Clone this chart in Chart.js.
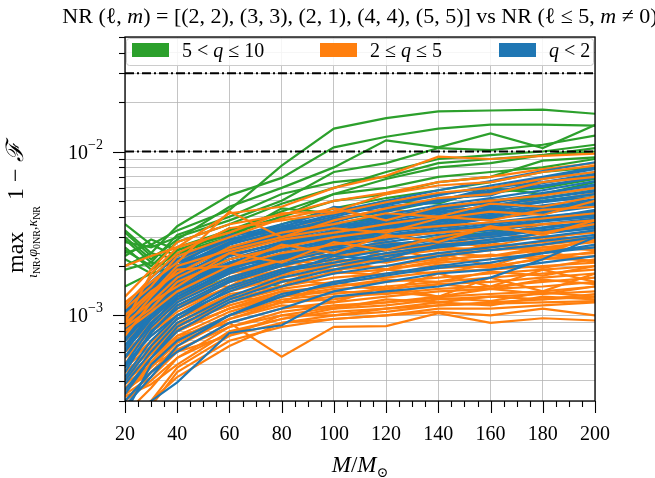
<!DOCTYPE html>
<html>
<head>
<meta charset="utf-8">
<script src="https://cdn.jsdelivr.net/npm/chart.js@4.4.1/dist/chart.umd.min.js"></script>
<style>
  html, body { margin: 0; padding: 0; background: #fff; }
  #wrap { width: 655px; height: 478px; }
</style>
</head>
<body>
<div id="wrap"><canvas id="mismatch" width="655" height="478"></canvas></div>
<script>
// total masses (x axis, solar masses)
var massGrid = [20, 30, 40, 60, 80, 100, 120, 140, 160, 180, 200];

// max mismatch values, in units of 1e-3
var greenCurves = [
  [3.6, 2.7, 3.3, 4.4, 8.2, 13.8, 16.0, 17.6, 17.8, 18.0, 17.0],
  [3.3, 2.4, 3.5, 5.4, 6.9, 10.6, 12.3, 13.8, 14.6, 14.6, 14.4],
  [3.0, 2.2, 2.9, 4.6, 6.0, 8.0, 11.7, 10.6, 12.9, 10.5, 14.5],
  [2.8, 2.6, 3.0, 3.8, 5.0, 7.5, 8.5, 10.5, 10.2, 11.0, 12.5],
  [2.5, 2.0, 2.8, 3.6, 4.8, 6.0, 7.5, 9.0, 9.5, 10.0, 11.0],
  [3.2, 2.3, 2.6, 3.3, 4.3, 5.5, 6.8, 8.0, 8.5, 9.5, 10.0],
  [2.2, 1.8, 2.5, 3.1, 4.0, 5.0, 5.5, 6.5, 7.0, 8.8, 9.2],
  [2.0, 2.4, 2.2, 2.8, 3.6, 4.5, 5.2, 5.8, 6.5, 7.5, 8.0],
  [1.9, 2.1, 2.0, 2.5, 3.2, 3.8, 4.3, 5.0, 5.6, 6.0, 6.8],
  [1.0, 1.3, 1.8, 2.2, 2.6, 3.2, 3.6, 4.0, 4.5, 5.0, 5.5],
  [0.7, 1.0, 1.3, 1.7, 1.5, 2.2, 2.6, 3.0, 3.2, 3.8, 4.2],
  [0.9, 1.2, 1.5, 2.0, 2.3, 2.8, 3.2, 3.8, 4.0, 4.5, 5.0],
  [2.6, 1.9, 2.4, 3.0, 4.5, 4.2, 5.0, 4.8, 6.0, 5.5, 6.5],
  [2.4, 2.7, 2.3, 3.4, 3.0, 3.6, 4.0, 4.4, 5.0, 5.2, 5.8],
  [2.9, 2.1, 3.1, 4.0, 5.5, 6.5, 7.0, 8.5, 9.0, 9.5, 10.5],
  [2.3, 2.9, 2.5, 3.2, 4.0, 5.5, 6.0, 7.0, 7.5, 8.0, 9.0],
  [1.5, 1.8, 2.0, 2.6, 3.0, 2.8, 3.8, 3.5, 4.5, 4.2, 5.0]
];

var orangeCurves = [
  [0.9, 1.8, 2.6, 4.2, 4.6, 6.0, 7.1, 9.3, 9.0, 9.4, 9.7],
  [2.0, 2.3, 2.6, 3.2, 4.2, 4.3, 5.5, 6.2, 6.5, 7.5, 8.2],
  [1.2, 1.6, 2.1, 4.3, 3.0, 3.8, 4.5, 5.2, 5.5, 6.5, 7.0],
  [1.1, 1.5, 2.3, 3.0, 3.9, 4.5, 3.8, 4.6, 5.0, 5.4, 6.0],
  [1.0, 1.4, 1.8, 2.6, 3.2, 3.6, 4.2, 4.0, 4.8, 4.6, 5.3],
  [0.9, 1.2, 1.7, 2.4, 2.9, 3.2, 3.6, 4.0, 3.8, 4.4, 4.6],
  [0.85, 1.1, 1.6, 2.2, 2.6, 3.0, 3.3, 3.5, 3.7, 3.9, 4.2],
  [0.8, 1.05, 1.4, 2.0, 2.4, 2.7, 3.0, 3.2, 3.4, 3.6, 3.8],
  [1.15, 1.7, 2.4, 3.4, 3.8, 4.2, 4.9, 5.6, 6.0, 6.8, 7.5],
  [0.95, 1.35, 2.0, 2.5, 3.0, 3.4, 3.2, 3.9, 4.3, 4.1, 5.0],
  [0.85, 1.3, 1.9, 2.0, 2.7, 2.4, 3.1, 2.8, 3.5, 3.1, 3.8],
  [0.75, 1.2, 1.5, 2.4, 2.1, 2.8, 2.5, 3.0, 3.4, 3.2, 3.6],
  [0.75, 0.95, 1.3, 1.8, 2.2, 2.5, 2.7, 2.9, 3.1, 3.3, 3.5],
  [0.7, 0.9, 1.2, 1.7, 2.0, 2.3, 2.5, 2.7, 2.9, 3.0, 3.2],
  [0.65, 0.85, 1.1, 1.6, 1.9, 2.1, 2.3, 2.5, 2.6, 2.8, 3.0],
  [0.6, 0.8, 1.05, 1.5, 1.8, 2.0, 2.2, 2.3, 2.5, 2.6, 2.8],
  [0.55, 0.75, 1.0, 1.4, 1.7, 1.9, 2.0, 2.2, 2.3, 2.5, 2.6],
  [0.5, 0.7, 0.95, 1.3, 1.6, 1.8, 1.9, 2.1, 2.2, 2.3, 2.4],
  [0.48, 0.65, 0.9, 1.25, 1.5, 1.7, 1.8, 1.95, 2.0, 2.2, 2.3],
  [0.45, 0.6, 0.85, 1.2, 1.45, 1.6, 1.7, 1.85, 1.9, 2.0, 2.1],
  [0.42, 0.55, 0.8, 1.1, 1.35, 1.5, 1.6, 1.7, 1.8, 1.9, 2.0],
  [0.4, 0.52, 0.75, 1.05, 1.3, 1.45, 1.5, 1.6, 1.7, 1.8, 1.9],
  [0.38, 0.5, 0.7, 1.0, 1.25, 1.35, 1.45, 1.55, 1.6, 1.7, 1.8],
  [0.35, 0.45, 0.65, 0.95, 1.2, 1.3, 1.35, 1.45, 1.5, 1.6, 1.7],
  [0.33, 0.42, 0.6, 0.9, 1.1, 1.2, 1.3, 1.4, 1.45, 1.5, 1.6],
  [0.3, 0.4, 0.55, 0.85, 1.05, 1.15, 1.2, 1.3, 1.35, 1.4, 1.5],
  [0.32, 0.38, 0.5, 0.8, 0.95, 1.1, 1.15, 1.25, 1.3, 1.35, 1.4],
  [0.22, 0.3, 0.48, 0.75, 0.9, 1.0, 1.05, 1.15, 1.2, 1.25, 1.3],
  [0.2, 0.28, 0.45, 0.7, 0.85, 0.95, 1.0, 1.1, 1.1, 1.15, 1.2],
  [0.4, 0.55, 0.75, 0.9, 0.56, 0.85, 0.86, 1.03, 0.9, 0.96, 0.93],
  [0.6, 0.8, 1.0, 1.3, 1.2, 1.6, 1.4, 1.8, 1.5, 1.9, 1.6],
  [1.0, 1.3, 1.2, 2.0, 1.5, 2.2, 1.9, 2.4, 2.0, 2.5, 2.1],
  [0.7, 1.1, 1.5, 1.5, 2.2, 1.8, 2.6, 2.2, 2.8, 2.4, 3.0],
  [0.5, 0.9, 1.5, 2.1, 2.5, 2.3, 2.9, 3.3, 3.0, 3.6, 3.4],
  [0.45, 0.6, 0.8, 1.1, 1.4, 1.2, 1.5, 1.3, 1.7, 1.4, 1.8],
  [0.35, 0.5, 0.6, 0.75, 1.0, 1.0, 1.1, 1.2, 1.15, 1.3, 1.25],
  [0.18, 0.3, 0.42, 0.65, 0.9, 0.95, 1.0, 1.05, 1.0, 1.1, 1.0],
  [0.55, 0.9, 1.25, 1.7, 2.2, 2.0, 2.4, 2.6, 2.5, 2.7, 2.9],
  [0.5, 0.68, 0.95, 1.35, 1.5, 1.85, 1.75, 2.05, 1.95, 2.25, 2.15],
  [0.45, 0.62, 0.88, 1.15, 1.4, 1.5, 1.65, 1.6, 1.85, 1.75, 2.0],
  [0.4, 0.58, 0.82, 1.1, 1.3, 1.4, 1.35, 1.55, 1.45, 1.65, 1.55],
  [0.36, 0.5, 0.72, 1.0, 1.2, 1.25, 1.4, 1.3, 1.45, 1.35, 1.5],
  [0.34, 0.48, 0.68, 0.95, 1.15, 1.1, 1.25, 1.2, 1.3, 1.25, 1.35],
  [0.6, 0.82, 1.1, 1.5, 1.9, 2.2, 2.1, 2.4, 2.3, 2.6, 2.5],
  [0.65, 0.9, 1.15, 1.6, 2.0, 1.9, 2.3, 2.2, 2.7, 2.5, 2.9],
  [0.8, 1.1, 1.45, 1.9, 2.4, 2.2, 2.8, 2.6, 3.2, 2.9, 3.3],
  [0.9, 1.25, 1.8, 2.3, 2.8, 3.1, 2.9, 3.5, 3.3, 3.8, 4.0],
  [0.55, 0.8, 1.15, 1.45, 1.75, 2.05, 1.9, 2.15, 2.35, 2.2, 2.45],
  [0.3, 0.45, 0.62, 0.85, 1.0, 1.12, 1.2, 1.28, 1.22, 1.38, 1.3],
  [0.25, 0.36, 0.55, 0.78, 0.95, 1.05, 1.1, 1.15, 1.18, 1.2, 1.22],
  [0.7, 1.0, 1.35, 1.8, 2.1, 2.55, 2.35, 2.75, 2.65, 3.05, 2.85],
  [1.05, 1.5, 2.2, 2.8, 3.4, 3.9, 4.4, 4.2, 5.1, 4.9, 5.6],
  [1.3, 1.9, 2.8, 3.6, 4.1, 5.0, 5.6, 6.5, 7.0, 7.8, 8.5],
  [0.42, 0.62, 0.9, 1.3, 1.65, 1.55, 1.9, 1.8, 2.05, 1.95, 2.2]
];

var blueCurves = [
  [1.1, 1.6, 2.2, 3.0, 3.6, 4.3, 5.0, 5.8, 6.6, 7.6, 8.6],
  [1.0, 1.5, 2.0, 2.8, 3.4, 4.0, 4.7, 5.4, 6.2, 7.0, 8.0],
  [0.95, 1.4, 1.9, 2.7, 3.3, 3.8, 4.4, 5.0, 5.6, 6.4, 7.2],
  [0.9, 1.3, 1.8, 2.6, 3.1, 3.6, 4.1, 4.7, 5.2, 5.8, 6.6],
  [0.85, 1.25, 1.7, 2.4, 3.0, 3.5, 3.9, 4.4, 4.9, 5.4, 6.0],
  [0.8, 1.2, 1.6, 2.3, 2.8, 3.3, 3.7, 4.1, 4.5, 5.0, 5.5],
  [0.75, 1.1, 1.5, 2.2, 2.7, 3.1, 3.5, 3.9, 4.3, 4.7, 5.1],
  [0.7, 1.05, 1.45, 2.1, 2.6, 3.0, 3.4, 3.7, 4.1, 4.4, 4.8],
  [0.65, 1.0, 1.4, 2.0, 2.5, 2.9, 3.2, 3.5, 3.9, 4.2, 4.6],
  [0.6, 0.95, 1.3, 1.9, 2.4, 2.8, 3.1, 3.4, 3.7, 4.0, 4.3],
  [0.55, 0.9, 1.25, 1.8, 2.3, 2.6, 3.0, 3.2, 3.5, 3.8, 4.1],
  [0.5, 0.85, 1.2, 1.7, 2.1, 2.5, 2.8, 3.1, 3.3, 3.6, 3.9],
  [0.45, 0.8, 1.1, 1.6, 2.0, 2.4, 2.7, 2.9, 3.2, 3.4, 3.7],
  [0.42, 0.7, 1.0, 1.5, 1.9, 2.2, 2.5, 2.8, 3.0, 3.3, 3.5],
  [0.38, 0.6, 0.9, 1.3, 1.7, 2.0, 2.3, 2.6, 2.8, 3.0, 3.3],
  [0.35, 0.55, 0.8, 1.2, 1.5, 1.8, 2.0, 2.3, 2.5, 2.7, 3.0],
  [0.25, 0.5, 0.7, 1.0, 1.3, 1.6, 1.8, 2.0, 2.2, 2.4, 2.6],
  [0.22, 0.3, 0.39, 0.78, 0.87, 1.3, 1.4, 1.5, 1.7, 2.2, 3.0],
  [0.3, 0.45, 0.6, 0.9, 1.1, 1.4, 1.6, 1.8, 1.9, 2.1, 2.3],
  [1.05, 1.7, 2.3, 2.9, 3.4, 4.6, 4.3, 5.2, 5.4, 6.8, 7.5],
  [0.9, 1.5, 2.1, 2.5, 3.2, 3.7, 4.5, 4.9, 5.8, 6.1, 7.0],
  [0.7, 1.2, 1.7, 2.5, 2.9, 3.2, 3.9, 4.2, 4.7, 5.2, 5.7],
  [0.6, 1.1, 1.6, 2.0, 2.2, 2.6, 2.6, 2.9, 3.1, 3.3, 3.6],
  [0.5, 0.75, 1.0, 1.4, 1.8, 2.3, 2.2, 2.7, 2.8, 3.2, 3.4],
  [1.0, 1.45, 1.9, 2.6, 3.0, 3.4, 3.8, 4.6, 4.8, 5.6, 6.2],
  [0.8, 1.1, 1.55, 2.1, 2.5, 2.9, 3.3, 3.6, 4.0, 4.5, 5.0],
  [1.05, 1.55, 2.1, 2.9, 3.5, 4.1, 4.8, 5.5, 6.0, 6.9, 7.8],
  [0.95, 1.45, 1.95, 2.75, 3.2, 3.9, 4.3, 5.1, 5.7, 6.2, 6.9],
  [0.88, 1.35, 1.85, 2.5, 3.1, 3.4, 4.0, 4.5, 5.0, 5.5, 6.3],
  [0.82, 1.28, 1.75, 2.45, 2.9, 3.4, 3.8, 4.3, 4.6, 5.2, 5.8],
  [0.78, 1.15, 1.65, 2.35, 2.75, 3.2, 3.6, 4.0, 4.4, 4.9, 5.3],
  [0.72, 1.1, 1.55, 2.2, 2.6, 3.05, 3.45, 3.8, 4.2, 4.6, 4.9],
  [0.66, 1.0, 1.45, 2.05, 2.5, 2.85, 3.3, 3.6, 3.9, 4.3, 4.7],
  [0.62, 0.98, 1.35, 1.95, 2.35, 2.7, 3.05, 3.3, 3.6, 3.9, 4.4],
  [0.56, 0.88, 1.3, 1.85, 2.25, 2.65, 2.9, 3.25, 3.45, 3.75, 4.0],
  [0.48, 0.78, 1.15, 1.65, 2.05, 2.35, 2.65, 2.95, 3.15, 3.45, 3.75],
  [0.4, 0.65, 0.95, 1.45, 1.85, 2.1, 2.4, 2.65, 2.9, 3.15, 3.4],
  [0.33, 0.55, 0.85, 1.25, 1.6, 1.9, 2.15, 2.4, 2.6, 2.85, 3.1],
  [0.28, 0.42, 0.65, 1.0, 1.35, 1.55, 1.75, 1.95, 2.1, 2.4, 2.7],
  [1.0, 1.6, 2.0, 3.1, 3.3, 4.2, 4.6, 5.0, 6.0, 6.5, 7.3]
];

var thresholds = [0.01, 0.03];
var groupLabels = ['5 < q \u2264 10', '2 \u2264 q \u2264 5', 'q < 2'];
var groupColors = ['#2ca02c', '#ff7f0e', '#1f77b4'];
var yDecades = [-3, -2];

var UNIT = 1e-3;
var SERIF = "'Liberation Serif', 'DejaVu Serif', serif";

function toPoints(vals) {
  return massGrid.map(function (m, i) { return {x: m, y: vals[i] * UNIT}; });
}

// draw order, bottom first
var layers = [
  [greenCurves, groupColors[0]],
  [orangeCurves.slice(12), groupColors[1]],
  [blueCurves, groupColors[2]],
  [orangeCurves.slice(0, 12), groupColors[1]]
];

var datasets = [];
layers.forEach(function (layer) {
  layer[0].forEach(function (vals) {
    datasets.push({
      data: toPoints(vals),
      borderColor: layer[1],
      borderWidth: 2.2,
      pointRadius: 0,
      fill: false,
      tension: 0,
      clip: 0
    });
  });
});
thresholds.forEach(function (t) {
  datasets.push({
    data: [{x: massGrid[0], y: t}, {x: massGrid[massGrid.length - 1], y: t}],
    borderColor: '#000',
    borderWidth: 2,
    borderDash: [9, 3, 2, 3],
    pointRadius: 0,
    fill: false,
    clip: 0
  });
});
datasets.forEach(function (d, i) { d.order = -i; });

function richWidth(ctx, parts) {
  var w = 0;
  parts.forEach(function (p) { ctx.font = p[1]; w += ctx.measureText(p[0]).width; });
  return w;
}
function drawRich(ctx, parts, x, y, align) {
  var w = richWidth(ctx, parts);
  var cx = align === 'center' ? x - w / 2 : (align === 'right' ? x - w : x);
  ctx.textAlign = 'left';
  ctx.textBaseline = 'alphabetic';
  parts.forEach(function (p) {
    ctx.font = p[1];
    ctx.fillText(p[0], cx, y + (p[2] || 0));
    cx += ctx.measureText(p[0]).width;
  });
}

var decor = {
  id: 'decor',
  afterDraw: function (chart) {
    var ctx = chart.ctx;
    var a = chart.chartArea;
    var xs = chart.scales.x, ys = chart.scales.y;
    ctx.save();
    ctx.fillStyle = '#000';
    ctx.strokeStyle = '#000';

    // spines
    ctx.lineWidth = 1.3;
    ctx.strokeRect(a.left, a.top, a.right - a.left, a.bottom - a.top);

    // x tick marks
    ctx.lineWidth = 1.1;
    for (var m = 20; m <= 200; m += 5) {
      var px = Math.round(xs.getPixelForValue(m)) + 0.5;
      var len = m % 20 === 0 ? 12 : 6;
      ctx.beginPath(); ctx.moveTo(px, a.bottom); ctx.lineTo(px, a.bottom + len); ctx.stroke();
    }
    // y tick marks
    ys.ticks.forEach(function (t) {
      var py = Math.round(ys.getPixelForValue(t.value)) + 0.5;
      var len = t.major ? 12 : 6;
      ctx.beginPath(); ctx.moveTo(a.left - len, py); ctx.lineTo(a.left, py); ctx.stroke();
    });
    // y tick labels
    yDecades.forEach(function (e) {
      var py = ys.getPixelForValue(Math.pow(10, e));
      drawRich(ctx, [['10', '20px ' + SERIF], ['\u2212' + (-e), '14px ' + SERIF, -10]], 103, py + 7, 'right');
    });

    // title
    var f = '22px ' + SERIF, fi = 'italic 22px ' + SERIF;
    drawRich(ctx, [
      ['NR (', f], ['\u2113', f], [', ', f], ['m', fi],
      [') = [(2, 2), (3, 3), (2, 1), (4, 4), (5, 5)] vs NR (', f],
      ['\u2113', f], [' \u2264 5, ', f], ['m', fi], [' \u2260 0)', f]
    ], 360, 23, 'center');

    // x axis title
    drawRich(ctx, [['M', 'italic 23px ' + SERIF], ['/', '23px ' + SERIF], ['M', 'italic 23px ' + SERIF], ['\u2299', '14px ' + SERIF, 5]], 360, 472, 'center');

    // y axis title (rotated)
    ctx.save();
    ctx.translate(23, 273);
    ctx.rotate(-Math.PI / 2);
    drawRich(ctx, [['max', '24px ' + SERIF]], 0, 0, 'left');
    drawRich(ctx, [
      ['\u03b9', 'italic 14px ' + SERIF], ['NR', '10px ' + SERIF, 3], [',', '14px ' + SERIF],
      ['\u03c6', 'italic 14px ' + SERIF], ['0NR', '10px ' + SERIF, 3], [',', '14px ' + SERIF],
      ['\u03ba', 'italic 14px ' + SERIF], ['NR', '10px ' + SERIF, 3]
    ], -5, 14, 'left');
    drawRich(ctx, [['1 \u2212 ', '24px ' + SERIF], ['\u2131', 'italic 24px ' + SERIF]], 73, 0, 'left');
    ctx.restore();

    // legend
    ctx.fillStyle = 'rgba(255,255,255,0.85)';
    ctx.strokeStyle = '#cccccc';
    ctx.lineWidth = 1;
    ctx.beginPath();
    ctx.roundRect(126.5, 38.5, 467, 27, 3);
    ctx.fill(); ctx.stroke();
    var lx = [132, 320, 499];
    groupLabels.forEach(function (lab, i) {
      ctx.fillStyle = groupColors[i];
      ctx.fillRect(lx[i], 43, 37, 14);
      ctx.fillStyle = '#000';
      var parts = lab.split(/(q)/).filter(function (s) { return s.length; }).map(function (s) {
        return [s, (s === 'q' ? 'italic ' : '') + '20px ' + SERIF];
      });
      drawRich(ctx, parts, lx[i] + 50, 57, 'left');
    });
    ctx.restore();
  }
};

var gridColor = 'rgba(176,176,176,0.75)';

new Chart(document.getElementById('mismatch'), {
  type: 'line',
  data: { datasets: datasets },
  options: {
    responsive: false,
    animation: false,
    devicePixelRatio: 1,
    layout: { padding: { left: 0, right: 60, top: 37, bottom: 0 } },
    plugins: { legend: { display: false }, tooltip: { enabled: false } },
    scales: {
      x: {
        type: 'linear',
        min: 20,
        max: 200,
        ticks: { stepSize: 20, color: '#000', font: { family: SERIF, size: 20 }, padding: 22, maxRotation: 0 },
        grid: { color: gridColor, lineWidth: 1, drawTicks: false },
        border: { display: false },
        afterFit: function (s) { s.height = 77; }
      },
      y: {
        type: 'logarithmic',
        min: 3e-4,
        max: 5e-2,
        ticks: { display: false },
        grid: { color: gridColor, lineWidth: 1, drawTicks: false },
        border: { display: false },
        afterBuildTicks: function (s) {
          var t = [];
          for (var e = -4; e <= -2; e++) {
            for (var k = 1; k <= 9; k++) {
              var v = k * Math.pow(10, e);
              if (v >= s.min * 0.999 && v <= s.max * 1.001) t.push({ value: v, major: k === 1 });
            }
          }
          s.ticks = t;
        },
        afterFit: function (s) { s.width = 125; }
      }
    }
  },
  plugins: [decor]
});
</script>
</body>
</html>
